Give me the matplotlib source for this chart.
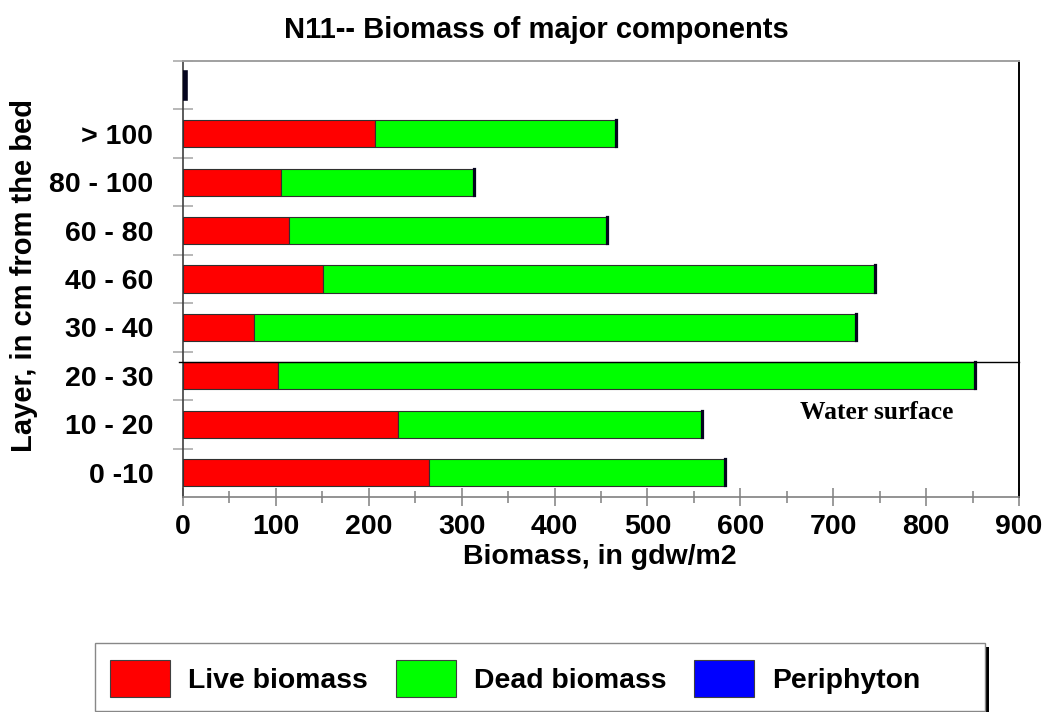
import matplotlib
matplotlib.use("Agg")
import matplotlib.pyplot as plt
from matplotlib.patches import Rectangle
from matplotlib.ticker import FixedLocator, MultipleLocator

# ---- data ----
layers = ['0 -10', '10 - 20', '20 - 30', '30 - 40', '40 - 60', '60 - 80', '80 - 100', '> 100', '']
live_biomass = [265, 231, 102, 76, 151, 114, 105, 207, 0]
dead_biomass = [319, 328, 751, 649, 594, 342, 208, 259, 0]
periphyton = [1, 1, 1, 1, 1, 1, 1, 1, 3.5]
series_names = ['Live biomass', 'Dead biomass', 'Periphyton']
series_colors = ['#ff0000', '#00ff00', '#0000ff']
x_ticks = [0, 100, 200, 300, 400, 500, 600, 700, 800, 900]

plt.rcParams['font.family'] = ['Liberation Sans', 'DejaVu Sans']
plt.rcParams['font.weight'] = 'bold'

W, H = 1044, 712
fig = plt.figure(figsize=(W / 100, H / 100), dpi=100)
ax = fig.add_axes([183 / W, 1 - 497 / H, 836 / W, 436 / H])

ypos = list(range(len(layers)))
bh = 0.56
left = [0] * len(layers)
handles = []
for vals, name, col in zip([live_biomass, dead_biomass, periphyton], series_names, series_colors):
    if name == 'Periphyton':
        edge, lw = '#05051e', 1.6
    else:
        edge, lw = '#303030', 0.8
    b = ax.barh(ypos, vals, height=bh, left=left, color=col, edgecolor=edge,
                linewidth=lw, label=name, zorder=3)
    handles.append(b)
    left = [l + v for l, v in zip(left, vals)]
# top (periphyton-only) bar appears almost black in the reference
handles[2].patches[-1].set_linewidth(2.6)

ax.set_xlim(0, 900)
ax.set_ylim(-0.5, len(layers) - 0.5)

TS = 20.5
# x ticks
ax.xaxis.set_major_locator(FixedLocator(x_ticks))
ax.xaxis.set_minor_locator(MultipleLocator(50))
ax.tick_params(axis='x', which='major', direction='inout', length=13, width=1.1,
               color='#808080', pad=5.5, labelsize=TS)
ax.tick_params(axis='x', which='minor', direction='inout', length=8.5, width=1.1,
               color='#808080')
for lab in ax.get_xticklabels():
    lab.set_fontweight('bold')

# y ticks: labels at centers, marks at boundaries
ax.yaxis.set_major_locator(FixedLocator(ypos))
ax.set_yticklabels(layers, fontsize=TS, fontweight='bold')
ax.yaxis.set_minor_locator(FixedLocator([i + 0.5 for i in ypos[:-1]] + [len(layers) - 0.5]))
ax.tick_params(axis='y', which='major', length=0, pad=21.5)
ax.tick_params(axis='y', which='minor', direction='inout', length=14, width=1.4,
               color='#b8b8b8')

# spines
ax.spines['left'].set_color('#404040')
ax.spines['left'].set_linewidth(1.2)
ax.spines['bottom'].set_color('#808080')
ax.spines['bottom'].set_linewidth(1.2)
ax.spines['top'].set_color('#a0a0a0')
ax.spines['top'].set_linewidth(1.4)
ax.spines['right'].set_color('#000000')
ax.spines['right'].set_linewidth(1.4)

# water surface line and label
ws_y = 2 + bh / 2
ax.plot([-4, 900], [ws_y, ws_y], color='black', linewidth=1.0, clip_on=False, zorder=4)
ax.text(747, 1.24, 'Water surface', ha='center', va='center',
        family=['Liberation Serif', 'DejaVu Serif'], fontweight='bold', fontsize=18.4)

# titles / labels
fig.text(536 / W, 1 - 30 / H, 'N11-- Biomass of major components', ha='center', va='center',
         fontsize=21, fontweight='bold')
fig.text(600 / W, 1 - 557 / H, 'Biomass, in gdw/m2', ha='center', va='center',
         fontsize=TS, fontweight='bold')
fig.text(24 / W, 1 - 276 / H, 'Layer, in cm from the bed', ha='center', va='center',
         rotation=90, fontsize=21, fontweight='bold')

# legend frame with shadow
fig.patches.append(Rectangle((99 / W, 1 - 716 / H), 890 / W, 69 / H, transform=fig.transFigure,
                             facecolor='black', edgecolor='none', zorder=0))
fig.patches.append(Rectangle((95 / W, 1 - 711 / H), 890 / W, 68 / H, transform=fig.transFigure,
                             facecolor='white', edgecolor='#888888', linewidth=1.0, zorder=1))

fs = 20.4
px = fs * 100 / 72
leg = fig.legend(handles, series_names, loc='center left',
                 bbox_to_anchor=(110 / W, 1 - 678.5 / H), ncol=3, frameon=False,
                 handlelength=60 / px, handleheight=47 / px,
                 handletextpad=18 / px, columnspacing=28 / px, borderpad=0,
                 borderaxespad=0, prop={'weight': 'bold', 'size': fs})
for p in leg.get_patches():
    p.set_edgecolor('#404040')
    p.set_linewidth(0.8)

fig.savefig('out.png', dpi=100)
